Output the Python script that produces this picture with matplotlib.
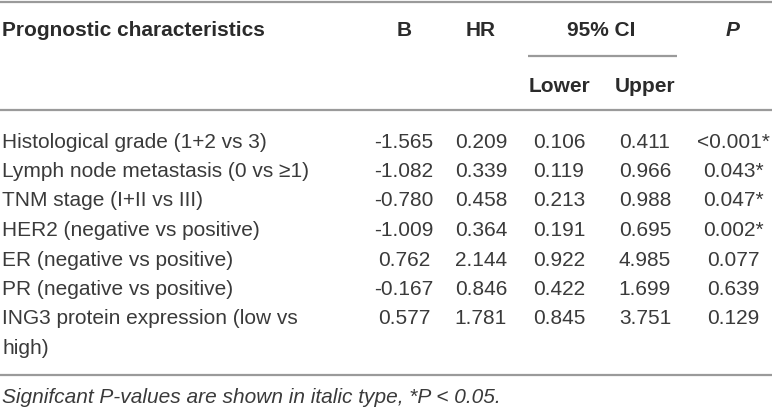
import matplotlib
matplotlib.use("Agg")
import matplotlib.pyplot as plt
from matplotlib.lines import Line2D

# ---- data ----
characteristics = [
    "Histological grade (1+2 vs 3)",
    "Lymph node metastasis (0 vs \u22651)",
    "TNM stage (I+II vs III)",
    "HER2 (negative vs positive)",
    "ER (negative vs positive)",
    "PR (negative vs positive)",
    "ING3 protein expression (low vs\nhigh)",
]
b_values = ["-1.565", "-1.082", "-0.780", "-1.009", "0.762", "-0.167", "0.577"]
hr_values = ["0.209", "0.339", "0.458", "0.364", "2.144", "0.846", "1.781"]
ci_lower = ["0.106", "0.119", "0.213", "0.191", "0.922", "0.422", "0.845"]
ci_upper = ["0.411", "0.966", "0.988", "0.695", "4.985", "1.699", "3.751"]
p_values = ["<0.001*", "0.043*", "0.047*", "0.002*", "0.077", "0.639", "0.129"]
footnote = "Signifcant P-values are shown in italic type, *P < 0.05."

W, H = 772, 408
fig = plt.figure(figsize=(W / 100, H / 100), dpi=100)
ax = fig.add_axes([0, 0, 1, 1])
ax.set_xlim(0, W)
ax.set_ylim(H, 0)
ax.axis("off")

FONT = "Liberation Sans"
FS = 15
TXT = "#2b2b2b"
BODY = "#3a3a3a"
LINE = "#9a9a9a"

col_x = {"B": 404, "HR": 481, "Lower": 559, "Upper": 645, "P": 733}

def hline(y, x0=0, x1=W, lw=1.6):
    ax.add_line(Line2D([x0, x1], [y, y], color=LINE, lw=lw, solid_capstyle="butt"))

def txt(x, y, s, ha="left", weight="normal", style="normal", size=FS, color=BODY):
    ax.text(x, y, s, ha=ha, va="baseline", fontsize=size, fontfamily=FONT,
            fontweight=weight, fontstyle=style, color=color)

# rules
hline(1.5)
hline(110)
hline(56, 528, 677)
hline(375)

# header
hb = 36
txt(2, hb, "Prognostic characteristics", weight="bold", color=TXT)
txt(col_x["B"], hb, "B", ha="center", weight="bold", color=TXT)
txt(col_x["HR"], hb, "HR", ha="center", weight="bold", color=TXT)
txt(601, hb, "95% CI", ha="center", weight="bold", color=TXT)
txt(col_x["P"], hb, "P", ha="center", weight="bold", style="italic", color=TXT)
txt(col_x["Lower"], 92, "Lower", ha="center", weight="bold", color=TXT)
txt(col_x["Upper"], 92, "Upper", ha="center", weight="bold", color=TXT)

# body
y0 = 147.5
pitch = 29.5
for i in range(len(characteristics)):
    yb = y0 + i * pitch
    for k, line in enumerate(characteristics[i].split("\n")):
        txt(2, yb + k * pitch, line)
    txt(col_x["B"], yb, b_values[i], ha="center")
    txt(col_x["HR"], yb, hr_values[i], ha="center")
    txt(col_x["Lower"], yb, ci_lower[i], ha="center")
    txt(col_x["Upper"], yb, ci_upper[i], ha="center")
    txt(col_x["P"], yb, p_values[i], ha="center")

# footnote
txt(2, 403, footnote, style="italic")

fig.savefig("out.png", dpi=100, facecolor="white")
